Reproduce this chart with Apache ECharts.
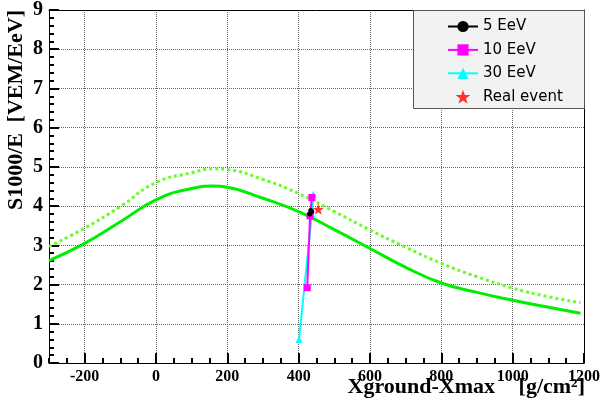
<!DOCTYPE html>
<html>
<head>
<meta charset="utf-8">
<script src="https://cdn.jsdelivr.net/npm/echarts@6/dist/echarts.min.js"></script>
<style>
html, body { margin: 0; padding: 0; background: #fff; }
#chart { width: 605px; height: 412px; }
</style>
</head>
<body>
<div id="chart"></div>
<script>
// 刻度
var xTicks = [-200, 0, 200, 400, 600, 800, 1000, 1200];
var yTicks = [0, 1, 2, 3, 4, 5, 6, 7, 8, 9];

// 两条绿色曲线
var curveX  = [-300, -200, -100, 0, 100, 160, 200, 300, 400, 500, 600, 700, 800, 900, 1000, 1100, 1190];
var solidY  = [2.61, 3.05, 3.60, 4.16, 4.45, 4.51, 4.48, 4.20, 3.86, 3.40, 2.92, 2.44, 2.04, 1.80, 1.60, 1.42, 1.27];
var dottedY = [2.97, 3.44, 3.99, 4.60, 4.85, 4.95, 4.93, 4.68, 4.32, 3.86, 3.39, 2.95, 2.54, 2.20, 1.91, 1.69, 1.54];

// 各能量的点
var e5X = [431, 434, 437];
var e5Y = [3.80, 3.89, 3.86];
var e10X = [424, 432, 437];
var e10Y = [1.92, 3.75, 4.22];
var e30X = [401, 437, 441];
var e30Y = [0.60, 3.80, 4.30];
var realX = [455];
var realY = [3.92];

function pairs(xs, ys) {
    return xs.map(function (x, i) { return [x, ys[i]]; });
}

var star = 'path://M0,-10L2.35,-3.24L9.51,-3.09L3.8,1.24L5.88,8.09L0,4L-5.88,8.09L-3.8,1.24L-9.51,-3.09L-2.35,-3.24Z';
var serif = 'Liberation Serif';
var gridLine = { show: true, lineStyle: { color: '#666', type: 'dotted', width: 1 } };
var black = { color: '#000', width: 1 };
var tickStyle = { color: '#000', width: 2 };
var rect = { left: 49, right: 21, top: 10, bottom: 49, show: false };

// x 次刻度 (grid 1)
function xTickAxis() {
    return {
        type: 'value', gridIndex: 1, position: 'bottom', min: -300, max: 1200, interval: 50,
        axisLine: { show: false, onZero: false },
        axisTick: { show: true, inside: true, length: 5, lineStyle: tickStyle },
        axisLabel: { show: false },
        splitLine: { show: false }
    };
}
// 上/右边框 (grid 2)
function frameAxis(pos, min, max) {
    return {
        type: 'value', gridIndex: 2, position: pos, min: min, max: max,
        axisLine: { show: true, onZero: false, lineStyle: black },
        axisTick: { show: false },
        axisLabel: { show: false },
        splitLine: { show: false }
    };
}
// 辅助 x 轴, 0 在左边, 让 y 刻度轴贴在左边
function dummyX(grid) {
    return {
        type: 'value', gridIndex: grid, min: 0, max: 1,
        axisLine: { show: false }, axisTick: { show: false },
        axisLabel: { show: false }, splitLine: { show: false }
    };
}
// y 刻度 (grid 3: 主刻度, grid 4: 次刻度)
function yTickAxis(grid, step, len) {
    return {
        type: 'value', gridIndex: grid, position: 'left', min: 0, max: 9, interval: step,
        axisLine: { show: false, onZero: true },
        axisTick: { show: true, inside: true, length: len, lineStyle: tickStyle },
        axisLabel: { show: false },
        splitLine: { show: false }
    };
}

var myChart = echarts.init(document.getElementById('chart'));

myChart.setOption({
    animation: false,
    grid: [rect, rect, rect, rect, rect],
    legend: {
        data: ['5 EeV', '10 EeV', '30 EeV', 'Real event'],
        orient: 'vertical',
        left: 447,
        top: 19,
        itemWidth: 30,
        itemHeight: 14,
        itemGap: 8.4,
        padding: 0,
        z: 20,
        textStyle: { fontFamily: 'DejaVu Sans', fontSize: 15, color: '#000', lineHeight: 14 }
    },
    xAxis: [
        {
            type: 'value',
            gridIndex: 0,
            min: -300,
            max: 1200,
            splitNumber: 7,
            axisLine: { show: true, onZero: false, lineStyle: black },
            axisTick: { show: true, inside: true, length: 10, lineStyle: tickStyle },
            axisLabel: {
                show: true,
                showMinLabel: false,
                formatter: function (v) { return xTicks.indexOf(v) < 0 ? '' : String(v); },
                fontFamily: serif, fontWeight: 'bold', fontSize: 16, color: '#000', margin: 6
            },
            splitLine: gridLine
        },
        xTickAxis(),
        frameAxis('top', -300, 1200),
        dummyX(3),
        dummyX(4)
    ],
    yAxis: [
        {
            type: 'value',
            gridIndex: 0,
            min: 0,
            max: 9,
            interval: 1,
            axisLine: { show: true, onZero: false, lineStyle: black },
            axisTick: { show: true, inside: true, length: 10, lineStyle: tickStyle },
            axisLabel: {
                show: true,
                formatter: function (v) { return yTicks.indexOf(v) < 0 ? '' : String(v); },
                fontFamily: serif, fontWeight: 'bold', fontSize: 20, color: '#000', margin: 6
            },
            splitLine: gridLine
        },
        {
            type: 'value', gridIndex: 1, min: 0, max: 9,
            axisLine: { show: false }, axisTick: { show: false },
            axisLabel: { show: false }, splitLine: { show: false }
        },
        frameAxis('right', 0, 9),
        yTickAxis(3, 1, 10),
        yTickAxis(4, 0.2, 5)
    ],
    graphic: [
        {
            type: 'rect', z: 10,
            shape: { x: 413.5, y: 10.5, width: 171, height: 98 },
            style: { fill: '#f2f2f2', stroke: '#555', lineWidth: 1 }
        },
        {
            type: 'text', x: 495, y: 387,
            style: {
                text: 'Xground-Xmax', align: 'right', verticalAlign: 'middle',
                font: 'bold 22px "Liberation Serif"', fill: '#000'
            }
        },
        {
            type: 'text', x: 585, y: 387,
            style: {
                text: '[g/cm\u00b2]', align: 'right', verticalAlign: 'middle',
                font: 'bold 22px "Liberation Serif"', fill: '#000'
            }
        },
        {
            type: 'text', x: 16, y: 10, rotation: Math.PI / 2,
            style: {
                text: '[VEM/EeV]', align: 'right', verticalAlign: 'middle',
                font: 'bold 22px "Liberation Serif"', fill: '#000'
            }
        },
        {
            type: 'text', x: 16, y: 133, rotation: Math.PI / 2,
            style: {
                text: 'S1000/E', align: 'right', verticalAlign: 'middle',
                font: 'bold 22px "Liberation Serif"', fill: '#000'
            }
        }
    ],
    series: [
        {
            name: 'solid',
            type: 'line',
            data: pairs(curveX, solidY),
            smooth: true,
            showSymbol: false,
            lineStyle: { color: '#00ee00', width: 3 },
            z: 2
        },
        {
            name: 'dotted',
            type: 'line',
            data: pairs(curveX, dottedY),
            smooth: true,
            showSymbol: false,
            lineStyle: { color: '#66ff22', width: 3, type: [3, 3] },
            z: 2
        },
        {
            name: '30 EeV',
            type: 'line',
            data: pairs(e30X, e30Y),
            symbol: 'triangle',
            symbolSize: 7,
            itemStyle: { color: '#00ffff' },
            lineStyle: { color: '#00ffff', width: 2 },
            z: 3
        },
        {
            name: '10 EeV',
            type: 'line',
            data: pairs(e10X, e10Y),
            symbol: 'rect',
            symbolSize: 7,
            itemStyle: { color: '#ff00ff' },
            lineStyle: { color: '#ff00ff', width: 2 },
            z: 4
        },
        {
            name: '5 EeV',
            type: 'line',
            data: pairs(e5X, e5Y),
            symbol: 'circle',
            symbolSize: 5,
            itemStyle: { color: '#000' },
            lineStyle: { color: '#000', width: 1.5 },
            z: 5
        },
        {
            name: 'Real event',
            type: 'scatter',
            data: pairs(realX, realY),
            symbol: star,
            symbolSize: 11,
            itemStyle: { color: '#ff0000' },
            z: 6
        }
    ]
});

window.addEventListener('resize', () => {
    myChart.resize();
});
</script>
</body>
</html>
